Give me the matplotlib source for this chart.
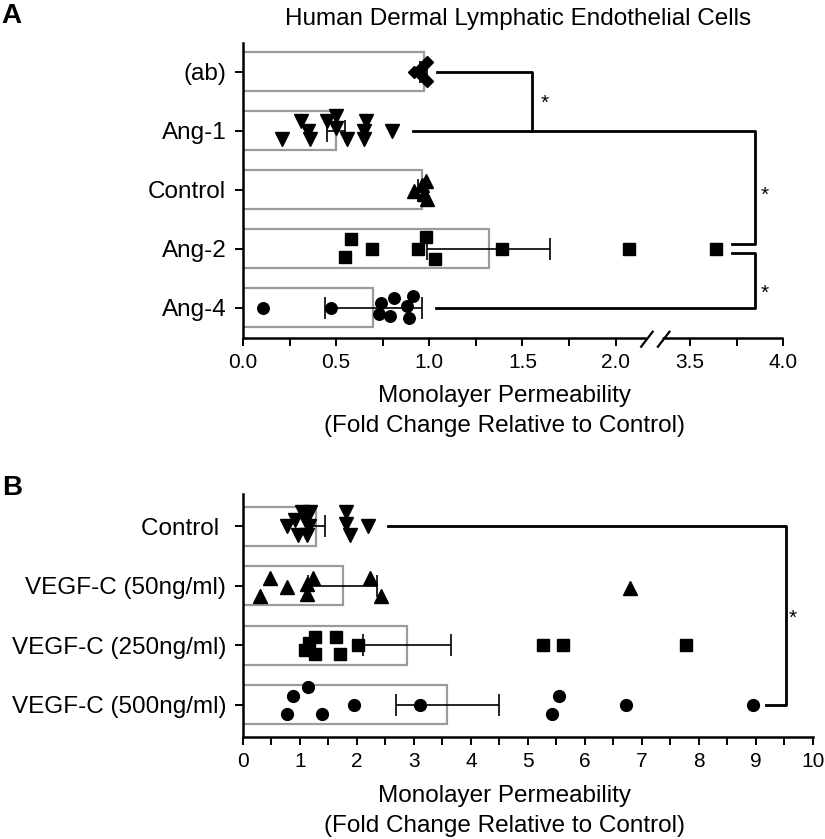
import numpy as np
import matplotlib.pyplot as plt
from matplotlib.ticker import FixedLocator, MultipleLocator

plt.rcParams['font.family'] = ['Liberation Sans', 'DejaVu Sans']

# ---- panel A (rows top to bottom) ----
a_labels = ["(ab)", "Ang-1", "Control", "Ang-2", "Ang-4"]
a_means = [0.97, 0.50, 0.96, 1.32, 0.70]
a_sem = [0.02, 0.05, 0.02, 0.33, 0.26]
a_ab = [0.92, 0.96, 0.99, 0.96, 0.99]
a_ab_dy = [0.0, 0.08, 0.16, -0.08, -0.16]
a_ang1 = [0.21, 0.31, 0.35, 0.36, 0.45, 0.50, 0.50, 0.56, 0.66, 0.65, 0.65, 0.80]
a_ang1_dy = [-0.14, 0.17, 0.0, -0.14, 0.17, 0.25, 0.05, -0.14, 0.17, 0.0, -0.14, 0.0]
a_ctrl = [0.92, 0.96, 0.98, 0.99, 0.97]
a_ctrl_dy = [-0.02, 0.07, 0.15, -0.16, -0.07]
a_ang2 = [0.58, 0.55, 0.69, 0.94, 0.98, 1.03, 1.39, 2.07, 3.64]
a_ang2_dy = [0.16, -0.15, 0.0, 0.0, 0.19, -0.18, 0.0, 0.0, 0.0]
a_ang4 = [0.11, 0.47, 0.74, 0.73, 0.81, 0.79, 0.88, 0.91, 0.89]
a_ang4_dy = [0.0, 0.0, 0.07, -0.10, 0.16, -0.15, 0.02, 0.19, -0.18]
a_ticks = [0.0, 0.5, 1.0, 1.5, 2.0, 3.5, 4.0]

# ---- panel B (rows top to bottom) ----
b_labels = ["Control ", "VEGF-C (50ng/ml)", "VEGF-C (250ng/ml)", "VEGF-C (500ng/ml)"]
b_means = [1.28, 1.75, 2.88, 3.59]
b_sem = [0.16, 0.61, 0.77, 0.90]
b_ctrl = [0.78, 0.91, 1.03, 1.18, 1.09, 0.97, 1.12, 1.15, 1.81, 1.81, 1.87, 2.20]
b_ctrl_dy = [0.0, 0.10, 0.24, 0.24, 0.10, -0.15, -0.15, 0.0, 0.24, 0.04, -0.15, 0.0]
b_v50 = [0.30, 0.47, 0.77, 1.12, 1.12, 1.23, 2.23, 2.43, 6.79]
b_v50_dy = [-0.17, 0.13, -0.02, 0.03, -0.14, 0.13, 0.13, -0.17, -0.03]
b_v250 = [1.26, 1.15, 1.09, 1.26, 1.64, 1.71, 2.02, 5.26, 5.61, 7.78]
b_v250_dy = [0.14, 0.03, -0.08, -0.14, 0.14, -0.14, 0.0, 0.0, 0.0, 0.0]
b_v500 = [1.14, 0.88, 0.77, 1.38, 1.95, 3.10, 5.54, 5.43, 6.72, 8.96]
b_v500_dy = [0.30, 0.14, -0.16, -0.16, 0.0, 0.0, 0.14, -0.16, 0.0, 0.0]

BAR_EDGE = '#9b9b9b'
W, H = 825, 839


def brk(v):
    # axis break on panel A: 2.2 .. 3.3 is cut out
    v = np.asarray(v, dtype=float)
    return np.where(v > 2.2, v - 1.1, v)


def style_axes(ax):
    for s in ['top', 'right']:
        ax.spines[s].set_visible(False)
    ax.spines['left'].set_linewidth(1.8)
    ax.spines['bottom'].set_linewidth(1.8)
    ax.tick_params(axis='both', which='both', direction='out', width=1.4, color='black')
    ax.tick_params(axis='y', length=6, pad=6, labelsize=17.5)
    ax.tick_params(axis='x', which='both', length=5.5, pad=5, labelsize=15)


def draw_group(ax, ypos, mean, sem, pts, dy, marker, ms, xf=lambda v: v):
    ax.barh(ypos, xf(mean), height=0.66, color='white', edgecolor=BAR_EDGE,
            linewidth=1.6, zorder=1)
    lo = xf(mean - sem)
    hi = xf(mean + sem)
    ax.errorbar(xf(mean), ypos, xerr=[[xf(mean) - lo], [hi - xf(mean)]], fmt='none',
                ecolor='black', elinewidth=1.2, capsize=8, capthick=1.2, zorder=2)
    ax.plot(xf(pts), ypos + np.asarray(dy), linestyle='none', marker=marker,
            markersize=ms, color='black', zorder=3, clip_on=False)


fig = plt.figure(figsize=(W / 100, H / 100), dpi=100)

# ---------------- Panel A ----------------
axA = fig.add_axes([243 / W, 1 - 338.3 / H, 540.3 / W, 295.6 / H])
style_axes(axA)
axA.set_xlim(0, 2.9)
axA.set_ylim(-0.52, 4.49)
ya = [4, 3, 2, 1, 0]
groups_a = [(a_ab, a_ab_dy, 'D', 6.5), (a_ang1, a_ang1_dy, 'v', 9.5),
            (a_ctrl, a_ctrl_dy, '^', 9.5), (a_ang2, a_ang2_dy, 's', 8),
            (a_ang4, a_ang4_dy, 'o', 8.3)]
for y, m, s, (p, d, mk, ms) in zip(ya, a_means, a_sem, groups_a):
    draw_group(axA, y, m, s, p, d, mk, ms, xf=brk)

axA.set_yticks(ya)
axA.set_yticklabels(a_labels)
axA.xaxis.set_major_locator(FixedLocator(brk(a_ticks)))
axA.set_xticklabels([f"{t:.1f}" for t in a_ticks])
axA.xaxis.set_minor_locator(FixedLocator(brk([0.25, 0.75, 1.25, 1.75, 3.75])))

# broken bottom spine
axA.spines['bottom'].set_visible(False)
tr = axA.get_xaxis_transform()
axA.plot([0, 2.165], [0, 0], transform=tr, color='black', lw=1.8, clip_on=False,
         solid_capstyle='butt')
axA.plot([2.25, 2.9], [0, 0], transform=tr, color='black', lw=1.8, clip_on=False,
         solid_capstyle='butt')
for x0 in [2.137, 2.227]:
    axA.plot([x0, x0 + 0.062], [-0.52 - 8.4 / 59, -0.52 + 6.6 / 59], color='black',
             lw=1.6, clip_on=False)

# significance brackets
lw_b = 2.0
axA.plot([1.04, 1.55, 1.55], [4, 4, 3], color='black', lw=lw_b, clip_on=False)
axA.plot([0.91, 2.748, 2.748, 2.624], [3, 3, 1.08, 1.08], color='black', lw=lw_b,
         clip_on=False)
axA.plot([1.034, 2.748, 2.748, 2.624], [0, 0, 0.92, 0.92], color='black', lw=lw_b,
         clip_on=False)
for sx, sy in [(1.62, 3.46), (2.80, 1.91), (2.80, 0.24)]:
    axA.text(sx, sy, '*', fontsize=15, ha='center', va='center')

fig.text(518 / W, 1 - 25 / H, "Human Dermal Lymphatic Endothelial Cells",
         ha='center', va='baseline', fontsize=17.5)
fig.text(505 / W, 1 - 402 / H, "Monolayer Permeability", ha='center',
         va='baseline', fontsize=17.5)
fig.text(505 / W, 1 - 432 / H, "(Fold Change Relative to Control)", ha='center',
         va='baseline', fontsize=17.5)
fig.text(0.002, 1 - 23 / H, "A", fontsize=20, fontweight='bold', va='baseline')

# ---------------- Panel B ----------------
axB = fig.add_axes([243 / W, 1 - 737 / H, 569.6 / W, 243 / H])
style_axes(axB)
axB.set_xlim(0, 10)
axB.set_ylim(-0.54, 3.54)
yb = [3, 2, 1, 0]
groups_b = [(b_ctrl, b_ctrl_dy, 'v', 9.5), (b_v50, b_v50_dy, '^', 9.5),
            (b_v250, b_v250_dy, 's', 8.3), (b_v500, b_v500_dy, 'o', 8.5)]
for y, m, s, (p, d, mk, ms) in zip(yb, b_means, b_sem, groups_b):
    draw_group(axB, y, m, s, p, d, mk, ms)

axB.set_yticks(yb)
axB.set_yticklabels(b_labels)
axB.xaxis.set_major_locator(MultipleLocator(1))
axB.xaxis.set_minor_locator(MultipleLocator(0.5))

axB.plot([2.55, 9.54, 9.54, 9.19], [3, 3, 0, 0], color='black', lw=lw_b,
         clip_on=False)
axB.text(9.65, 1.46, '*', fontsize=15, ha='center', va='center')

fig.text(505 / W, 1 - 802 / H, "Monolayer Permeability", ha='center',
         va='baseline', fontsize=17.5)
fig.text(505 / W, 1 - 832 / H, "(Fold Change Relative to Control)", ha='center',
         va='baseline', fontsize=17.5)
fig.text(0.002, 1 - 495 / H, "B", fontsize=20, fontweight='bold', va='baseline')

fig.savefig('out.png', dpi=100)
